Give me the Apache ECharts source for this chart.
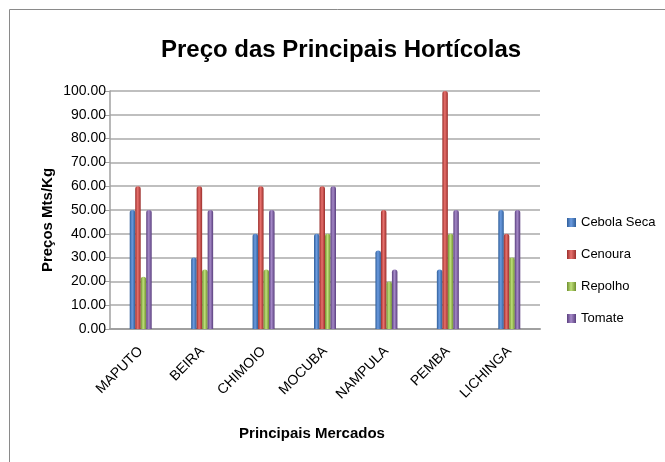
<!DOCTYPE html>
<html>
<head>
<meta charset="utf-8">
<script src="https://cdn.jsdelivr.net/npm/echarts@6/dist/echarts.min.js"></script>
<style>
  html, body { margin: 0; padding: 0; background: #fff; }
  #chart { width: 665px; height: 462px; }
</style>
</head>
<body>
<div id="chart"></div>
<script>
// valores (Mts/Kg)
const mercados = ['MAPUTO', 'BEIRA', 'CHIMOIO', 'MOCUBA', 'NAMPULA', 'PEMBA', 'LICHINGA']
const cebolaSeca = [50, 30, 40, 40, 33, 25, 50]
const cenoura = [60, 60, 60, 60, 50, 100, 40]
const repolho = [22, 25, 25, 40, 20, 40, 30]
const tomate = [50, 50, 50, 60, 25, 50, 50]

const plain = '"Liberation Sans", Arial, sans-serif'

// cilindro: bordas escuras, centro claro
function cyl(dark, light) {
  return new echarts.graphic.LinearGradient(0, 0, 1, 0, [
    { offset: 0, color: dark },
    { offset: 0.45, color: light },
    { offset: 1, color: dark }
  ])
}

function serie(name, data, dark, light, base) {
  return {
    name: name,
    type: 'bar',
    data: data,
    barWidth: 5.5,
    barGap: '0%',
    color: base,
    itemStyle: { color: cyl(dark, light), borderRadius: [3, 3, 0, 0] }
  }
}

const chart = echarts.init(document.getElementById('chart'))
chart.setOption({
  animation: false,
  backgroundColor: '#fff',
  title: {
    text: 'Preço das Principais Hortícolas',
    left: 336,
    top: 33,
    textAlign: 'center',
    textStyle: { fontFamily: plain, fontSize: 24, fontWeight: 'bold', color: '#000' }
  },
  grid: { left: 110, right: 125, top: 91, bottom: 133 },
  legend: {
    orient: 'vertical',
    left: 562,
    top: 211,
    itemWidth: 9,
    itemHeight: 9,
    itemGap: 19,
    icon: 'rect',
    textStyle: { fontFamily: plain, fontSize: 13, color: '#000' }
  },
  xAxis: {
    type: 'category',
    data: mercados,
    axisLine: { lineStyle: { color: '#a0a0a0', width: 2 } },
    axisTick: { show: false },
    axisLabel: {
      interval: 0,
      rotate: 45,
      margin: 20,
      fontFamily: plain,
      fontSize: 14,
      color: '#000'
    }
  },
  yAxis: {
    type: 'value',
    min: 0,
    max: 100,
    interval: 10,
    axisLine: { show: true, lineStyle: { color: '#a0a0a0', width: 1.5 } },
    axisTick: { show: true, length: 5, lineStyle: { color: '#a0a0a0' } },
    splitLine: { lineStyle: { color: '#aaaaaa', width: 1.5 } },
    axisLabel: {
      margin: 4,
      fontFamily: plain,
      fontSize: 14,
      color: '#000',
      formatter: v => v.toFixed(2)
    }
  },
  graphic: [
    {
      type: 'rect',
      shape: { x: 9.5, y: 9.5, width: 700, height: 500 },
      style: { fill: null, stroke: '#8a8a8a', lineWidth: 1 },
      z: -1
    },
    {
      type: 'text',
      x: 48,
      y: 220,
      rotation: Math.PI / 2,
      style: {
        text: 'Preços Mts/Kg',
        fontFamily: plain,
        fontSize: 15,
        fontWeight: 'bold',
        fill: '#000',
        align: 'center',
        verticalAlign: 'middle'
      }
    },
    {
      type: 'text',
      x: 312,
      y: 434,
      style: {
        text: 'Principais Mercados',
        fontFamily: plain,
        fontSize: 15,
        fontWeight: 'bold',
        fill: '#000',
        align: 'center',
        verticalAlign: 'middle'
      }
    }
  ],
  series: [
    serie('Cebola Seca', cebolaSeca, '#2f5e99', '#6b9be0', '#4F81BD'),
    serie('Cenoura', cenoura, '#9a2e2b', '#e8716d', '#C0504D'),
    serie('Repolho', repolho, '#6f8f2e', '#bfe07a', '#9BBB59'),
    serie('Tomate', tomate, '#5a3f7e', '#a589c8', '#8064A2')
  ]
})
</script>
</body>
</html>
